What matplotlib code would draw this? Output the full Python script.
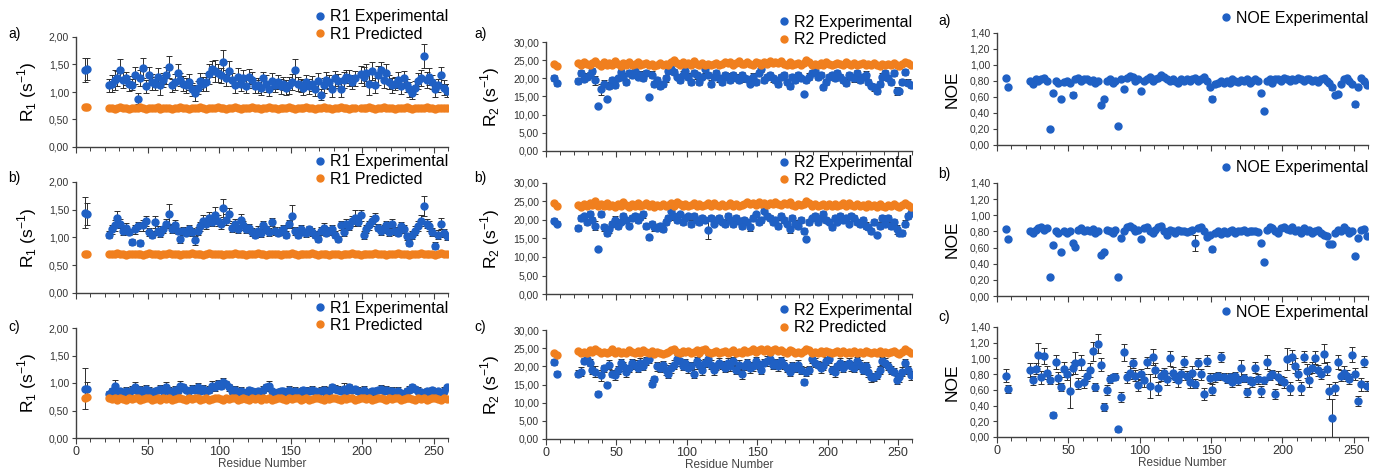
import matplotlib
matplotlib.use("Agg")
import matplotlib.pyplot as plt
from matplotlib.lines import Line2D
from matplotlib.ticker import MultipleLocator, FuncFormatter

nan = float("nan")

# residue numbers (categories on the x axis)
residues = [6, 8,
    23, 25, 27, 29, 31, 33, 35, 37, 39, 41,
    43, 45, 47, 49, 51, 53, 55, 57, 59, 61,
    63, 65, 67, 69, 71, 73, 75, 77, 79, 81,
    83, 85, 87, 89, 91, 93, 95, 97, 99, 101,
    103, 105, 107, 109, 111, 113, 115, 117, 119, 121,
    123, 125, 127, 129, 131, 133, 135, 137, 139, 141,
    143, 145, 147, 149, 151, 153, 155, 157, 159, 161,
    163, 165, 167, 169, 171, 173, 175, 177, 179, 181,
    183, 185, 187, 189, 191, 193, 195, 197, 199, 201,
    203, 205, 207, 209, 211, 213, 215, 217, 219, 221,
    223, 225, 227, 229, 231, 233, 235, 237, 239, 241,
    243, 245, 247, 249, 251, 253, 255, 257, 259]

# ---- R1 ----
r1_exp_a = [1.40, 1.42,
    1.12, 1.15, 1.22, 1.25, 1.40, 1.22, 1.25, 1.15, 1.13, 1.30,
    0.88, 1.25, 1.43, 1.10, 1.30, 1.18, 1.15, 1.28, 1.12, 1.22,
    1.30, 1.45, 1.12, 1.18, 1.35, 1.22, 1.15, 1.12, 1.18, 1.05,
    0.98, 1.08, 1.20, 1.15, 1.18, 1.32, 1.42, 1.38, 1.35, 1.30,
    1.55, 1.25, 1.38, 1.22, 1.12, 1.28, 1.15, 1.25, 1.10, 1.28,
    1.22, 1.10, 1.12, 1.08, 1.25, 1.15, 1.05, 1.20, 1.12, 1.18,
    1.10, 1.15, 1.08, 1.12, 1.18, 1.40, 1.15, 1.12, 1.08, 1.18,
    1.10, 1.15, 1.05, 1.20, 0.95, 1.12, 1.22, 1.18, 1.05, 1.25,
    1.20, 1.05, 1.22, 1.28, 1.25, 1.18, 1.25, nan, 1.32, 1.28,
    1.35, 1.15, 1.38, 1.12, 1.30, 1.40, 1.22, 1.35, 1.18, 1.12,
    1.15, 1.22, 1.10, 1.25, 1.12, 1.05, 0.98, 1.08, 1.20, 1.25,
    1.65, 1.22, 1.28, 1.18, 1.05, 1.12, 1.30, 1.08, 1.02]
r1_err_a = [0.22, 0.20,
    0.12, 0.15, 0.18, 0.14, 0.20, 0.15, 0.12, 0.14, 0.10, 0.16,
    0.10, 0.15, 0.18, 0.12, 0.16, 0.14, 0.12, 0.15, 0.18, 0.13,
    0.15, 0.20, 0.12, 0.14, 0.16, 0.12, 0.14, 0.13, 0.15, 0.12,
    0.14, 0.12, 0.15, 0.13, 0.16, 0.18, 0.15, 0.20, 0.16, 0.14,
    0.22, 0.15, 0.18, 0.12, 0.14, 0.16, 0.13, 0.15, 0.12, 0.14,
    0.15, 0.12, 0.13, 0.14, 0.12, 0.15, 0.13, 0.14, 0.12, 0.13,
    0.14, 0.12, 0.13, 0.15, 0.14, 0.20, 0.13, 0.12, 0.14, 0.12,
    0.13, 0.14, 0.12, 0.15, 0.10, 0.13, 0.14, 0.12, 0.15, 0.14,
    0.13, 0.15, 0.14, 0.12, 0.15, 0.13, 0.14, nan, 0.16, 0.18,
    0.15, 0.20, 0.16, 0.13, 0.18, 0.15, 0.14, 0.16, 0.13, 0.14,
    0.12, 0.15, 0.14, 0.13, 0.12, 0.14, 0.10, 0.12, 0.14, 0.15,
    0.22, 0.14, 0.15, 0.13, 0.14, 0.12, 0.16, 0.14, 0.12]
r1_pred_a = [0.72, 0.73,
    0.70, 0.71, 0.69, 0.70, 0.72, 0.70, 0.71, 0.69, 0.70, 0.71,
    0.70, 0.72, 0.70, 0.69, 0.71, 0.70, 0.70, 0.72, 0.69, 0.70,
    0.71, 0.70, 0.69, 0.71, 0.70, 0.72, 0.70, 0.71, 0.69, 0.70,
    0.71, 0.70, 0.72, 0.70, 0.69, 0.71, 0.70, 0.70, 0.72, 0.71,
    0.70, 0.69, 0.70, 0.71, 0.72, 0.70, 0.69, 0.70, 0.71, 0.70,
    0.72, 0.70, 0.71, 0.69, 0.70, 0.70, 0.72, 0.71, 0.70, 0.69,
    0.70, 0.71, 0.70, 0.72, 0.70, 0.69, 0.71, 0.70, 0.70, 0.72,
    0.71, 0.70, 0.69, 0.70, 0.71, 0.72, 0.70, 0.71, 0.69, 0.70,
    0.70, 0.72, 0.71, 0.70, 0.69, 0.70, 0.71, nan, 0.70, 0.71,
    0.70, 0.72, 0.70, 0.69, 0.71, 0.70, 0.72, 0.70, 0.71, 0.70,
    0.69, 0.70, 0.71, 0.70, 0.72, 0.70, 0.69, 0.71, 0.70, 0.71,
    0.70, 0.72, 0.70, 0.71, 0.69, 0.70, 0.71, 0.70, 0.71]

r1_exp_b = [1.45, 1.42,
    1.05, 1.15, 1.22, 1.35, 1.25, 1.12, 1.18, 1.10, 0.92, 1.15,
    1.20, 0.90, 1.22, 1.30, 1.10, 1.05, 1.28, 1.12, 1.08, 1.15,
    1.25, 1.43, 1.15, 1.22, 1.12, 0.98, 1.12, 1.08, 1.15, 1.10,
    0.95, 1.12, 1.20, 1.30, 1.25, 1.35, 1.28, 1.40, 1.30, 1.25,
    1.53, 1.32, 1.42, 1.18, 1.25, 1.15, 1.32, 1.22, 1.15, 1.18,
    1.10, 1.05, 1.12, 1.08, 1.22, 1.15, 1.10, 1.28, 1.12, 1.08,
    1.12, 1.15, 1.05, 1.25, 1.38, 1.12, 1.05, 1.15, 1.10, 1.08,
    1.15, 1.10, 1.05, 0.97, 1.12, 1.18, 1.08, 1.12, 1.15, 1.05,
    0.97, 1.22, 1.10, 1.25, 1.20, 1.30, 1.35, 1.28, 1.40, 1.05,
    1.15, 1.22, 1.30, 1.35, 1.18, 1.12, 1.15, 1.22, 1.10, 1.25,
    1.12, 1.08, 1.20, 1.15, 1.02, 0.90, 1.05, 1.12, 1.20, 1.30,
    1.57, 1.25, 1.20, 1.10, 0.85, 1.05, 1.25, 1.08, 1.02]
r1_err_b = [0.28, 0.20,
    0.06, 0.08, 0.10, 0.12, 0.08, 0.07, 0.09, 0.06, 0.05, 0.08,
    0.08, 0.05, 0.10, 0.09, 0.07, 0.06, 0.10, 0.08, 0.07, 0.06,
    0.08, 0.18, 0.07, 0.10, 0.06, 0.08, 0.07, 0.06, 0.08, 0.07,
    0.08, 0.07, 0.08, 0.10, 0.09, 0.11, 0.08, 0.15, 0.10, 0.09,
    0.16, 0.10, 0.12, 0.08, 0.09, 0.07, 0.10, 0.08, 0.07, 0.06,
    0.07, 0.06, 0.08, 0.07, 0.08, 0.06, 0.07, 0.08, 0.07, 0.06,
    0.07, 0.08, 0.06, 0.07, 0.20, 0.07, 0.06, 0.07, 0.06, 0.07,
    0.06, 0.07, 0.06, 0.05, 0.07, 0.08, 0.06, 0.07, 0.08, 0.06,
    0.05, 0.08, 0.07, 0.08, 0.07, 0.09, 0.15, 0.08, 0.10, 0.07,
    0.07, 0.08, 0.09, 0.10, 0.07, 0.08, 0.07, 0.08, 0.07, 0.08,
    0.07, 0.06, 0.08, 0.07, 0.06, 0.05, 0.07, 0.08, 0.09, 0.10,
    0.18, 0.08, 0.09, 0.07, 0.06, 0.08, 0.10, 0.07, 0.06]
r1_pred_b = [0.70, 0.70,
    0.71, 0.70, 0.70, 0.72, 0.71, 0.70, 0.69, 0.70, 0.71, 0.70,
    0.70, 0.71, 0.69, 0.70, 0.72, 0.70, 0.71, 0.70, 0.69, 0.70,
    0.71, 0.72, 0.70, 0.70, 0.71, 0.69, 0.70, 0.71, 0.70, 0.72,
    0.70, 0.71, 0.70, 0.69, 0.71, 0.72, 0.70, 0.71, 0.70, 0.70,
    0.69, 0.70, 0.71, 0.70, 0.72, 0.70, 0.71, 0.70, 0.69, 0.70,
    0.71, 0.70, 0.72, 0.70, 0.71, 0.69, 0.70, 0.70, 0.71, 0.70,
    0.69, 0.70, 0.71, 0.70, 0.72, 0.70, 0.69, 0.70, 0.71, 0.70,
    0.70, 0.72, 0.70, 0.69, 0.70, 0.71, 0.70, 0.69, 0.70, 0.71,
    0.70, 0.69, 0.71, 0.70, 0.70, 0.72, 0.71, 0.70, 0.69, 0.70,
    0.71, 0.70, 0.70, 0.72, 0.70, 0.71, 0.70, 0.69, 0.70, 0.71,
    0.70, 0.72, 0.70, 0.71, 0.70, 0.69, 0.70, 0.71, 0.70, 0.72,
    0.71, 0.70, 0.70, 0.71, 0.69, 0.70, 0.72, 0.71, 0.70]

r1_exp_c = [0.90, 0.90,
    0.80, 0.85, 0.95, 0.82, 0.85, 0.80, 0.86, 0.82, 0.88, 0.92,
    0.85, 0.88, 0.82, 0.90, 0.86, 0.82, 0.85, 0.88, 0.90, 0.85,
    0.92, 0.86, 0.82, 0.88, 0.85, 0.95, 0.92, 0.88, 0.85, 0.90,
    0.88, 0.92, 0.85, 0.90, 0.86, 0.88, 0.95, 0.92, 0.98, 0.95,
    1.02, 0.98, 0.92, 0.85, 0.88, 0.82, 0.86, 0.84, 0.82, 0.88,
    0.85, 0.82, 0.86, 0.84, 0.88, 0.92, 0.95, 0.85, 0.82, 0.84,
    0.86, 0.85, 0.82, 0.88, 0.84, 0.86, 0.82, 0.85, 0.88, 0.86,
    0.85, 0.88, 0.86, 0.84, 0.86, 0.88, 0.82, 0.86, 0.92, 0.90,
    0.88, 0.86, 0.90, 0.85, 0.92, 0.88, 0.90, 0.86, 0.82, 0.88,
    0.84, 0.82, 0.86, 0.85, 0.88, 0.90, 0.86, 0.88, 0.85, 0.86,
    0.84, 0.86, 0.82, 0.80, 0.85, 0.88, 0.92, 0.90, 0.86, 0.84,
    0.82, 0.86, 0.84, 0.88, 0.82, 0.85, 0.80, 0.86, 0.92]
r1_err_c = [0.38, 0.12,
    0.05, 0.06, 0.10, 0.05, 0.06, 0.05, 0.06, 0.05, 0.07, 0.10,
    0.05, 0.06, 0.05, 0.07, 0.06, 0.05, 0.06, 0.05, 0.07, 0.06,
    0.10, 0.06, 0.05, 0.07, 0.06, 0.08, 0.06, 0.05, 0.06, 0.07,
    0.06, 0.08, 0.05, 0.06, 0.05, 0.07, 0.08, 0.06, 0.07, 0.06,
    0.08, 0.06, 0.07, 0.05, 0.06, 0.05, 0.06, 0.05, 0.06, 0.05,
    0.06, 0.05, 0.05, 0.06, 0.06, 0.07, 0.08, 0.05, 0.06, 0.05,
    0.05, 0.06, 0.05, 0.06, 0.05, 0.06, 0.05, 0.06, 0.05, 0.06,
    0.05, 0.06, 0.05, 0.05, 0.06, 0.07, 0.05, 0.06, 0.07, 0.06,
    0.06, 0.05, 0.10, 0.06, 0.07, 0.06, 0.05, 0.06, 0.05, 0.06,
    0.05, 0.06, 0.05, 0.06, 0.05, 0.06, 0.05, 0.06, 0.05, 0.06,
    0.05, 0.06, 0.05, 0.05, 0.06, 0.07, 0.06, 0.05, 0.06, 0.05,
    0.06, 0.05, 0.06, 0.05, 0.06, 0.05, 0.05, 0.06, 0.05]
r1_pred_c = [0.72, 0.75,
    0.72, 0.71, 0.73, 0.70, 0.72, 0.71, 0.70, 0.72, 0.71, 0.73,
    0.72, 0.70, 0.71, 0.73, 0.72, 0.70, 0.71, 0.72, 0.70, 0.73,
    0.71, 0.72, 0.70, 0.71, 0.73, 0.72, 0.71, 0.70, 0.72, 0.71,
    0.73, 0.72, 0.70, 0.71, 0.72, 0.70, 0.71, 0.73, 0.72, 0.71,
    0.70, 0.72, 0.71, 0.73, 0.72, 0.70, 0.71, 0.72, 0.71, 0.70,
    0.72, 0.71, 0.73, 0.70, 0.72, 0.71, 0.72, 0.70, 0.71, 0.73,
    0.72, 0.71, 0.70, 0.72, 0.71, 0.73, 0.72, 0.70, 0.71, 0.72,
    0.70, 0.71, 0.73, 0.72, 0.71, 0.70, 0.72, 0.71, 0.73, 0.72,
    0.71, 0.70, 0.72, 0.71, 0.73, 0.72, 0.70, 0.71, 0.72, 0.73,
    0.71, 0.72, 0.70, 0.71, 0.73, 0.72, 0.71, 0.70, 0.72, 0.71,
    0.73, 0.72, 0.70, 0.71, 0.72, 0.73, 0.71, 0.70, 0.72, 0.71,
    0.72, 0.70, 0.71, 0.73, 0.72, 0.71, 0.70, 0.72, 0.71]

# ---- R2 ----
r2_exp_a = [20.2, 18.6,
    19.2, 21.5, 19.8, 20.5, 21.0, 22.0, 19.5, 12.3, 17.0, 18.5,
    14.3, 18.0, 19.5, 18.2, 20.0, 21.8, 20.5, 19.0, 21.5, 20.8,
    22.0, 20.5, 21.0, 20.0, 21.5, 14.8, 21.0, 18.5, 19.5, 17.8,
    18.5, 20.0, 22.0, 22.5, 21.8, 20.5, 19.5, 21.0, 22.0, 20.5,
    19.0, 21.5, 20.8, 19.0, 20.5, 22.5, 21.0, 18.5, 20.5, 21.5,
    20.0, 19.0, 21.0, 20.5, 19.5, 21.0, 20.2, 19.5, 21.0, 20.0,
    19.8, 18.5, 20.5, 19.0, 21.5, 22.5, 19.5, 20.5, 21.0, 20.0,
    19.5, 18.5, 20.5, 21.0, 19.0, 18.0, 20.5, 19.5, 21.0, 20.0,
    15.7, 19.5, 20.5, 21.5, 22.0, 20.5, 21.0, 17.5, 19.0, 20.5,
    21.0, 20.0, 21.5, 20.5, 19.5, 18.8, 21.0, 20.5, 20.0, 21.5,
    19.5, 20.5, 21.0, 19.0, 18.0, 17.5, 16.5, 18.5, 20.5, 21.5,
    20.0, 19.0, 21.5, 16.5, 16.5, 19.0, 21.8, 18.8, 18.2]
r2_err_a = [0.8, 0.6,
    0.8, 0.9, 0.7, 1.0, 0.8, 0.9, 1.2, 0.5, 1.5, 1.0,
    0.6, 1.0, 0.8, 0.9, 0.7, 0.8, 0.9, 0.7, 0.8, 0.6,
    0.7, 0.8, 0.9, 0.7, 0.8, 0.5, 0.9, 0.8, 1.0, 0.7,
    0.8, 0.9, 0.7, 0.8, 0.9, 0.7, 0.8, 1.0, 0.8, 0.9,
    0.8, 0.7, 0.9, 0.8, 0.7, 0.9, 0.8, 1.0, 0.7, 0.8,
    0.9, 0.7, 0.8, 0.9, 0.7, 0.8, 0.9, 0.8, 0.7, 0.9,
    0.8, 0.7, 0.9, 0.8, 0.7, 0.8, 0.9, 0.7, 0.8, 0.9,
    0.8, 0.9, 0.7, 0.8, 0.9, 0.8, 0.7, 0.9, 0.8, 0.7,
    0.5, 0.8, 0.9, 0.7, 0.8, 0.9, 0.7, 0.8, 0.9, 0.8,
    0.7, 0.8, 0.9, 0.8, 0.7, 0.9, 0.8, 0.7, 0.9, 0.8,
    0.8, 0.7, 0.9, 0.8, 0.7, 0.9, 0.8, 0.8, 0.9, 0.7,
    0.8, 0.9, 0.8, 1.2, 0.7, 0.8, 0.9, 1.0, 0.8]
r2_pred_a = [24.0, 23.3,
    24.2, 23.8, 24.5, 24.0, 23.6, 24.3, 24.8, 24.0, 23.5, 24.5,
    23.8, 24.2, 23.6, 24.8, 24.0, 23.5, 24.2, 23.8, 24.5, 23.6,
    24.0, 24.4, 23.7, 23.9, 24.3, 23.6, 24.0, 23.5, 23.8, 24.1,
    23.6, 24.0, 23.8, 24.6, 25.0, 24.2, 23.8, 24.5, 23.9, 24.3,
    23.6, 24.8, 24.0, 23.7, 24.3, 23.8, 24.0, 23.6, 23.9, 24.2,
    23.7, 24.0, 24.5, 24.2, 24.6, 23.8, 24.3, 24.8, 24.0, 23.9,
    24.5, 24.0, 23.8, 24.6, 24.2, 23.7, 24.4, 24.0, 24.8, 24.3,
    24.6, 24.2, 24.8, 24.0, 23.8, 24.5, 23.6, 24.0, 24.3, 23.8,
    24.1, 25.0, 24.4, 23.7, 24.0, 23.6, 24.2, 23.8, 24.4, 24.0,
    23.6, 23.9, 24.3, 24.0, 23.7, 24.6, 24.0, 23.8, 24.2, 23.6,
    23.9, 24.3, 23.7, 24.0, 23.6, 24.1, 23.8, 23.5, 24.0, 23.7,
    23.9, 23.6, 24.2, 23.8, 23.5, 23.9, 24.6, 24.2, 23.7]

r2_exp_b = [19.8, 19.0,
    17.8, 20.5, 21.0, 19.5, 21.5, 20.0, 18.5, 12.2, 21.5, 18.0,
    16.5, 17.5, 19.0, 20.0, 18.5, 19.5, 21.0, 20.0, 18.5, 20.5,
    21.0, 20.0, 20.8, 21.5, 18.5, 15.3, 19.0, 18.0, 17.8, 18.5,
    17.5, 19.5, 20.5, 22.5, 21.0, 20.0, 21.5, 19.5, 20.5, 21.0,
    19.0, 21.0, 20.0, 19.5, 20.5, 20.0, 17.3, 20.5, 19.0, 20.0,
    20.5, 19.5, 19.0, 21.0, 20.0, 19.0, 20.5, 19.8, 18.5, 20.0,
    19.5, 18.0, 20.5, 21.5, 19.5, 20.0, 22.5, 21.0, 20.5, 19.5,
    20.0, 18.5, 21.0, 20.0, 19.0, 17.5, 20.5, 19.0, 18.5, 20.0,
    17.0, 14.8, 19.5, 20.5, 21.0, 19.5, 20.5, 21.5, 20.0, 19.5,
    18.0, 20.5, 19.5, 21.0, 20.0, 20.5, 19.0, 21.0, 20.5, 19.5,
    19.0, 20.0, 18.5, 18.0, 17.0, 19.5, 16.0, 18.5, 20.5, 19.0,
    20.5, 18.5, 19.5, 17.5, 16.5, 16.5, 19.0, 21.0, 22.0]
r2_err_b = [0.7, 0.6,
    0.9, 0.8, 0.7, 0.9, 0.8, 0.7, 1.2, 0.5, 0.8, 1.0,
    0.7, 0.9, 0.8, 1.0, 0.8, 0.7, 0.9, 0.8, 0.7, 0.8,
    0.9, 0.8, 0.7, 0.9, 0.8, 0.6, 0.8, 1.0, 0.9, 0.8,
    0.7, 0.9, 0.8, 0.7, 0.9, 0.8, 0.7, 0.9, 0.8, 0.7,
    0.9, 0.8, 0.7, 0.8, 0.9, 0.8, 2.5, 0.8, 0.7, 0.9,
    0.8, 0.7, 0.9, 0.8, 0.7, 0.8, 0.9, 0.8, 1.0, 0.8,
    0.7, 0.9, 0.8, 0.7, 0.8, 0.9, 0.7, 0.8, 0.9, 0.8,
    0.7, 0.8, 0.9, 0.8, 0.7, 1.0, 0.8, 0.9, 0.8, 0.7,
    0.9, 0.6, 0.8, 0.7, 0.9, 0.8, 0.7, 0.9, 0.8, 0.7,
    0.8, 0.9, 0.7, 0.8, 0.9, 0.8, 0.7, 0.8, 0.9, 0.8,
    0.8, 0.7, 0.9, 0.8, 0.9, 0.8, 0.6, 0.9, 0.8, 0.7,
    0.8, 0.9, 0.8, 1.2, 0.7, 0.8, 0.9, 0.8, 0.7]
r2_pred_b = [24.5, 23.8,
    24.0, 23.6, 24.2, 23.8, 24.5, 24.0, 25.0, 23.7, 24.3, 23.9,
    24.6, 23.8, 24.0, 23.5, 24.2, 23.9, 24.8, 24.0, 23.6, 24.3,
    23.8, 24.5, 23.7, 24.0, 24.6, 23.8, 24.2, 23.6, 24.0, 23.8,
    24.3, 23.7, 24.0, 24.5, 23.8, 24.8, 24.2, 23.9, 24.4, 23.7,
    24.0, 24.6, 23.8, 24.2, 23.7, 24.0, 24.5, 23.8, 24.6, 24.0,
    23.8, 24.3, 23.9, 24.0, 24.5, 23.8, 24.2, 23.7, 24.0, 24.4,
    24.8, 24.2, 24.6, 24.0, 24.8, 24.3, 24.6, 24.0, 24.5, 24.2,
    24.8, 24.3, 24.0, 24.6, 24.2, 24.8, 24.0, 23.8, 24.4, 24.0,
    24.2, 25.0, 24.5, 23.8, 24.2, 23.7, 24.0, 24.4, 23.8, 24.2,
    23.9, 24.3, 23.7, 24.0, 24.5, 23.8, 24.6, 24.0, 23.7, 24.2,
    23.8, 24.0, 23.6, 24.3, 23.8, 24.0, 23.6, 24.2, 23.8, 23.6,
    24.0, 23.7, 24.2, 23.8, 23.6, 24.0, 24.6, 24.0, 23.6]

r2_exp_c = [21.2, 18.0,
    18.0, 18.5, 21.5, 22.0, 21.0, 19.0, 18.5, 12.5, 17.5, 19.5,
    15.0, 20.5, 18.0, 17.5, 19.0, 21.0, 20.0, 18.5, 19.5, 21.0,
    20.5, 19.5, 21.0, 20.0, 21.5, 22.0, 15.2, 16.5, 20.0, 19.5,
    20.5, 19.0, 18.0, 19.5, 20.5, 22.0, 21.5, 20.0, 21.0, 19.5,
    20.0, 18.0, 21.5, 20.5, 19.0, 21.0, 22.0, 20.5, 19.0, 20.0,
    21.0, 20.5, 19.5, 21.0, 20.0, 21.5, 19.0, 20.5, 17.8, 20.0,
    21.0, 19.5, 20.0, 21.5, 20.5, 19.0, 21.0, 21.5, 22.0, 20.5,
    21.0, 20.0, 21.5, 20.5, 19.5, 18.5, 20.0, 19.5, 20.5, 19.0,
    15.7, 18.5, 19.0, 22.0, 21.0, 20.5, 19.5, 20.0, 21.5, 22.0,
    19.0, 18.5, 20.0, 21.0, 19.5, 20.5, 21.0, 20.0, 19.5, 21.5,
    20.5, 19.0, 20.0, 18.5, 17.0, 17.0, 17.5, 19.0, 21.5, 21.0,
    20.0, 19.0, 18.5, 16.2, 17.0, 18.5, 21.0, 19.0, 17.5]
r2_err_c = [0.8, 0.6,
    1.0, 1.2, 0.9, 1.1, 1.0, 1.2, 1.5, 0.8, 1.4, 1.0,
    0.8, 1.2, 1.0, 1.3, 1.1, 1.0, 1.2, 1.4, 1.0, 1.1,
    1.2, 1.0, 1.3, 1.1, 1.0, 1.2, 1.0, 0.9, 1.2, 1.1,
    1.0, 1.3, 1.1, 1.4, 1.2, 1.0, 1.3, 1.1, 1.0, 1.2,
    1.1, 1.3, 1.0, 1.2, 1.4, 1.1, 1.0, 1.2, 1.3, 1.0,
    1.2, 1.1, 1.0, 1.3, 1.2, 1.0, 1.1, 1.3, 1.2, 1.0,
    1.1, 1.3, 1.2, 1.0, 1.1, 1.2, 1.0, 1.3, 1.1, 1.2,
    1.0, 1.2, 1.1, 1.3, 1.0, 1.2, 1.1, 1.0, 1.2, 1.1,
    0.8, 1.2, 1.0, 1.1, 1.3, 1.0, 1.2, 1.1, 1.0, 1.2,
    1.1, 1.3, 1.0, 1.2, 1.1, 1.0, 1.3, 1.2, 1.0, 1.1,
    1.2, 1.0, 1.1, 1.3, 1.2, 1.0, 1.1, 1.2, 1.0, 1.3,
    1.1, 1.2, 1.0, 1.1, 1.3, 1.2, 1.0, 1.1, 1.2]
r2_pred_c = [23.6, 23.2,
    24.2, 23.8, 24.0, 23.6, 24.4, 23.9, 24.8, 24.2, 23.7, 24.0,
    23.6, 24.0, 24.8, 23.8, 24.2, 23.6, 24.0, 23.7, 24.5, 24.0,
    23.8, 24.3, 23.7, 24.6, 24.0, 23.8, 24.2, 23.5, 23.9, 23.6,
    23.4, 23.8, 24.0, 24.5, 24.8, 24.0, 23.7, 24.2, 23.9, 24.3,
    23.6, 24.0, 24.4, 23.8, 24.6, 24.9, 24.0, 23.6, 23.9, 24.1,
    23.7, 24.0, 24.3, 23.8, 24.0, 24.5, 23.7, 24.0, 23.8, 24.4,
    23.9, 24.2, 24.9, 24.0, 24.6, 24.8, 24.3, 24.7, 24.0, 24.5,
    24.8, 24.2, 24.4, 24.0, 23.8, 24.6, 24.2, 23.7, 24.0, 23.8,
    24.2, 24.8, 24.4, 23.7, 24.0, 23.6, 24.1, 23.8, 24.2, 23.9,
    23.6, 24.0, 24.3, 23.8, 24.1, 23.7, 24.0, 23.6, 24.3, 23.8,
    24.0, 23.7, 24.2, 23.9, 23.6, 24.0, 23.8, 24.3, 23.7, 24.0,
    23.6, 23.9, 24.2, 23.8, 23.5, 24.0, 24.8, 24.2, 23.6]

# ---- NOE ----
noe_a = [0.84, 0.72,
    0.80, 0.76, 0.82, 0.80, 0.83, 0.84, 0.80, 0.20, 0.65, 0.80,
    0.78, 0.57, 0.79, 0.80, 0.78, 0.63, 0.82, 0.84, 0.80, 0.83,
    0.82, 0.80, 0.81, 0.78, 0.80, 0.50, 0.57, 0.80, 0.82, 0.78,
    0.80, 0.24, 0.82, 0.70, 0.84, 0.86, 0.85, 0.80, 0.82, 0.68,
    0.80, 0.83, 0.85, 0.80, 0.82, 0.84, 0.88, 0.85, 0.82, 0.80,
    0.82, 0.80, 0.78, 0.82, 0.80, 0.83, 0.80, 0.82, 0.84, 0.80,
    0.82, 0.85, 0.80, 0.72, 0.58, 0.76, 0.78, 0.80, 0.77, 0.80,
    0.78, 0.82, 0.80, 0.79, 0.81, 0.80, 0.82, 0.78, 0.80, 0.82,
    0.80, 0.65, 0.42, 0.80, 0.82, 0.78, 0.83, 0.82, 0.80, 0.84,
    0.82, 0.80, 0.83, 0.81, 0.84, 0.82, 0.80, 0.82, 0.83, 0.80,
    0.81, 0.79, 0.82, 0.84, 0.80, 0.78, 0.72, 0.62, 0.64, 0.76,
    0.82, 0.84, 0.80, 0.76, 0.51, 0.72, 0.84, 0.80, 0.75]
noe_err_a = [0.02, 0.02,
    0.02, 0.01, 0.02, 0.02, 0.01, 0.02, 0.02, 0.02, 0.03, 0.02,
    0.02, 0.02, 0.01, 0.02, 0.02, 0.03, 0.02, 0.01, 0.02, 0.02,
    0.02, 0.01, 0.02, 0.02, 0.02, 0.03, 0.02, 0.02, 0.01, 0.02,
    0.02, 0.02, 0.02, 0.03, 0.02, 0.01, 0.02, 0.02, 0.02, 0.02,
    0.02, 0.01, 0.02, 0.02, 0.02, 0.01, 0.02, 0.02, 0.02, 0.01,
    0.02, 0.02, 0.01, 0.02, 0.02, 0.02, 0.01, 0.02, 0.02, 0.02,
    0.02, 0.01, 0.02, 0.02, 0.03, 0.02, 0.02, 0.01, 0.02, 0.02,
    0.02, 0.02, 0.01, 0.02, 0.02, 0.02, 0.01, 0.02, 0.02, 0.02,
    0.02, 0.03, 0.02, 0.02, 0.01, 0.02, 0.02, 0.02, 0.01, 0.02,
    0.02, 0.02, 0.01, 0.02, 0.02, 0.02, 0.02, 0.01, 0.02, 0.02,
    0.02, 0.01, 0.02, 0.02, 0.02, 0.02, 0.03, 0.02, 0.02, 0.02,
    0.02, 0.02, 0.01, 0.02, 0.03, 0.02, 0.02, 0.02, 0.02]

noe_b = [0.83, 0.71,
    0.80, 0.78, 0.82, 0.84, 0.85, 0.82, 0.84, 0.23, 0.63, 0.80,
    0.78, 0.54, 0.80, 0.78, 0.80, 0.66, 0.61, 0.82, 0.84, 0.80,
    0.82, 0.80, 0.83, 0.78, 0.80, 0.51, 0.55, 0.82, 0.80, 0.78,
    0.82, 0.23, 0.72, 0.80, 0.85, 0.87, 0.84, 0.80, 0.82, 0.70,
    0.84, 0.86, 0.80, 0.78, 0.82, 0.85, 0.87, 0.80, 0.75, 0.82,
    0.80, 0.78, 0.82, 0.80, 0.81, 0.79, 0.80, 0.82, 0.66, 0.84,
    0.85, 0.80, 0.73, 0.76, 0.58, 0.78, 0.80, 0.77, 0.80, 0.78,
    0.80, 0.82, 0.78, 0.81, 0.80, 0.82, 0.79, 0.80, 0.81, 0.80,
    0.79, 0.66, 0.42, 0.82, 0.86, 0.84, 0.80, 0.78, 0.84, 0.86,
    0.83, 0.82, 0.85, 0.80, 0.82, 0.78, 0.84, 0.80, 0.82, 0.78,
    0.80, 0.82, 0.78, 0.76, 0.74, 0.64, 0.64, 0.78, 0.82, 0.80,
    0.86, 0.82, 0.78, 0.80, 0.49, 0.72, 0.82, 0.83, 0.74]
noe_err_b = [0.02, 0.02,
    0.01, 0.02, 0.02, 0.02, 0.01, 0.02, 0.02, 0.02, 0.02, 0.02,
    0.02, 0.02, 0.02, 0.01, 0.02, 0.02, 0.02, 0.02, 0.01, 0.02,
    0.02, 0.02, 0.01, 0.02, 0.02, 0.02, 0.02, 0.02, 0.02, 0.01,
    0.02, 0.02, 0.02, 0.02, 0.01, 0.02, 0.02, 0.02, 0.02, 0.02,
    0.02, 0.01, 0.02, 0.02, 0.02, 0.02, 0.01, 0.02, 0.02, 0.02,
    0.02, 0.02, 0.01, 0.02, 0.02, 0.02, 0.02, 0.02, 0.10, 0.02,
    0.02, 0.02, 0.02, 0.01, 0.03, 0.02, 0.02, 0.02, 0.01, 0.02,
    0.02, 0.02, 0.01, 0.02, 0.02, 0.02, 0.02, 0.01, 0.02, 0.02,
    0.02, 0.02, 0.02, 0.02, 0.01, 0.02, 0.02, 0.02, 0.02, 0.01,
    0.02, 0.02, 0.02, 0.01, 0.02, 0.02, 0.02, 0.02, 0.01, 0.02,
    0.02, 0.02, 0.01, 0.02, 0.02, 0.02, 0.02, 0.02, 0.01, 0.02,
    0.02, 0.02, 0.02, 0.01, 0.02, 0.02, 0.02, 0.02, 0.02]

noe_c = [0.78, 0.61,
    0.85, 0.72, 0.87, 1.05, 0.76, 1.03, 0.82, 0.73, 0.28, 0.96,
    0.75, 0.64, 0.86, 0.80, 0.58, 0.88, 0.94, 0.68, 0.95, 0.70,
    0.78, 0.85, 1.09, 0.64, 1.19, 0.92, 0.38, 0.60, 0.74, 0.76,
    0.77, 0.10, 0.51, 1.08, 0.76, 0.82, 0.94, 0.78, 0.66, 0.80,
    0.72, 0.95, 0.65, 1.02, 0.85, 0.62, 0.78, 0.82, 0.74, 1.00,
    0.82, 0.76, 0.72, 0.80, 0.96, 0.78, 0.70, 0.82, 0.68, 0.94,
    0.80, 0.55, 0.97, 0.75, 0.60, 0.76, 0.78, 1.02, 0.77, 0.74,
    0.76, 0.70, 0.78, 0.72, 0.88, 0.75, 0.57, 0.72, 0.70, 0.88,
    0.74, 0.58, 0.72, 0.96, 0.78, 0.80, 0.55, 0.76, 0.72, 0.70,
    0.99, 0.62, 1.02, 0.91, 0.80, 0.62, 1.02, 0.84, 0.72, 0.88,
    1.01, 0.85, 0.80, 1.06, 0.87, 0.58, 0.24, 0.62, 0.96, 0.78,
    0.82, 0.78, 0.74, 1.05, 0.80, 0.46, 0.67, 0.96, 0.65]
noe_err_c = [0.08, 0.05,
    0.09, 0.06, 0.07, 0.15, 0.08, 0.10, 0.08, 0.06, 0.04, 0.09,
    0.08, 0.05, 0.09, 0.07, 0.21, 0.08, 0.14, 0.07, 0.10, 0.08,
    0.07, 0.09, 0.12, 0.05, 0.12, 0.08, 0.05, 0.06, 0.05, 0.04,
    0.04, 0.03, 0.06, 0.11, 0.07, 0.08, 0.06, 0.07, 0.08, 0.07,
    0.08, 0.07, 0.15, 0.10, 0.09, 0.08, 0.07, 0.06, 0.08, 0.10,
    0.07, 0.06, 0.08, 0.07, 0.07, 0.06, 0.07, 0.08, 0.06, 0.07,
    0.07, 0.08, 0.07, 0.06, 0.07, 0.06, 0.05, 0.06, 0.05, 0.05,
    0.05, 0.06, 0.05, 0.06, 0.10, 0.05, 0.06, 0.05, 0.06, 0.07,
    0.06, 0.07, 0.05, 0.09, 0.06, 0.05, 0.06, 0.08, 0.06, 0.07,
    0.14, 0.08, 0.09, 0.10, 0.07, 0.08, 0.07, 0.09, 0.08, 0.07,
    0.08, 0.07, 0.06, 0.12, 0.08, 0.09, 0.24, 0.08, 0.09, 0.07,
    0.08, 0.07, 0.06, 0.09, 0.08, 0.06, 0.08, 0.07, 0.06]

for _name, _arr in list(globals().items()):
    if _name.startswith(("r1_", "r2_", "noe_")) and len(_arr) != len(residues):
        raise ValueError(f"{_name}: {len(_arr)} != {len(residues)}")

BLUE = "#1f60c4"
ORANGE = "#f07f1e"
ERR = "#2e2e2e"
AXIS = "#404040"

plt.rcParams["font.family"] = ["Liberation Sans", "DejaVu Sans"]

W, H = 1374, 471
fig = plt.figure(figsize=(W / 100, H / 100), dpi=100)


def px_axes(left, top, right, bottom):
    return fig.add_axes([left / W, 1 - bottom / H, (right - left) / W, (bottom - top) / H])


comma = FuncFormatter(lambda v, _: f"{v:.2f}".replace(".", ","))


def style(ax, ymax, ystep, bottom_row):
    ax.set_xlim(0, 260)
    ax.set_ylim(0, ymax)
    ax.yaxis.set_major_locator(MultipleLocator(ystep))
    ax.yaxis.set_major_formatter(comma)
    ax.xaxis.set_major_locator(MultipleLocator(50))
    ax.xaxis.set_minor_locator(MultipleLocator(10))
    for s in ("top", "right"):
        ax.spines[s].set_visible(False)
    for s in ("left", "bottom"):
        ax.spines[s].set_color(AXIS)
        ax.spines[s].set_linewidth(1.0)
    ax.tick_params(axis="y", direction="out", length=3, width=0.8, color=AXIS,
                   labelsize=7.5, labelcolor="#333333", pad=2)
    ax.tick_params(axis="x", which="major", direction="out", length=4, width=0.8, color=AXIS,
                   labelsize=9, labelcolor="#333333", pad=2)
    ax.tick_params(axis="x", which="minor", direction="out", length=3, width=0.7, color=AXIS)
    if bottom_row:
        ax.set_xlabel("Residue Number", fontsize=8.5, color="#444444", labelpad=0)
    else:
        ax.tick_params(axis="x", labelbottom=False)


def marker_handle(color):
    return Line2D([], [], marker="o", linestyle="", color=color, markersize=5)


def rate_panel(ax, exp, err, pred, name):
    ax.errorbar(residues, exp, yerr=err, fmt="o", ms=5, color=BLUE, mec=BLUE,
                ecolor=ERR, elinewidth=0.7, capsize=2, capthick=0.7, zorder=2)
    ax.plot(residues, pred, "o", ms=5, color=ORANGE, zorder=3)
    ax.legend([marker_handle(BLUE), marker_handle(ORANGE)],
              [f"{name} Experimental", f"{name} Predicted"],
              loc="upper right", bbox_to_anchor=(1.0, 1.25), frameon=False,
              borderaxespad=0, borderpad=0, handletextpad=0.1, handlelength=1.0,
              labelspacing=0.15, fontsize=11.5)


def noe_panel(ax, vals, err):
    ax.errorbar(residues, vals, yerr=err, fmt="o", ms=5, color=BLUE, mec=BLUE,
                ecolor=ERR, elinewidth=0.7, capsize=2, capthick=0.7, zorder=2)
    ax.legend([marker_handle(BLUE)], ["NOE Experimental"],
              loc="upper right", bbox_to_anchor=(1.0, 1.2), frameon=False,
              borderaxespad=0, borderpad=0, handletextpad=0.1, handlelength=1.0,
              fontsize=11.5)


rows = ["a)", "b)", "c)"]
r1_sets = [(r1_exp_a, r1_err_a, r1_pred_a), (r1_exp_b, r1_err_b, r1_pred_b),
           (r1_exp_c, r1_err_c, r1_pred_c)]
r2_sets = [(r2_exp_a, r2_err_a, r2_pred_a), (r2_exp_b, r2_err_b, r2_pred_b),
           (r2_exp_c, r2_err_c, r2_pred_c)]
noe_sets = [(noe_a, noe_err_a), (noe_b, noe_err_b), (noe_c, noe_err_c)]

left_rows = [(37, 147), (182, 293), (328, 438)]
mid_rows = [(42, 151), (183, 294), (330, 439)]
right_rows = [(33, 145), (183, 296), (327, 437)]
left_lab_y = [34, 178, 327]
mid_lab_y = [34, 178, 327]
right_lab_y = [21, 174, 317]

for i in range(3):
    last = i == 2
    # R1 column
    ax = px_axes(76, left_rows[i][0], 448, left_rows[i][1])
    rate_panel(ax, *r1_sets[i], "R1")
    style(ax, 2.0, 0.5, last)
    ax.set_ylabel(r"R$_\mathregular{1}$ (s$^\mathregular{-1}$)", fontsize=12.5)
    ax.yaxis.set_label_coords(-37 / 372, 0.5)
    fig.text(8 / W, 1 - left_lab_y[i] / H, rows[i], fontsize=10, va="center", ha="left")

    # R2 column
    ax = px_axes(546, mid_rows[i][0], 912, mid_rows[i][1])
    rate_panel(ax, *r2_sets[i], "R2")
    style(ax, 30, 5, last)
    ax.set_ylabel(r"R$_\mathregular{2}$ (s$^\mathregular{-1}$)", fontsize=12.5)
    ax.yaxis.set_label_coords(-44 / 366, 0.5)
    fig.text(474 / W, 1 - mid_lab_y[i] / H, rows[i], fontsize=10, va="center", ha="left")

    # NOE column
    ax = px_axes(997, right_rows[i][0], 1368, right_rows[i][1])
    noe_panel(ax, *noe_sets[i])
    style(ax, 1.4, 0.2, last)
    ax.set_ylabel("NOE", fontsize=12.5)
    ax.yaxis.set_label_coords(-37 / 371, 0.5)
    fig.text(938 / W, 1 - right_lab_y[i] / H, rows[i], fontsize=10, va="center", ha="left")

fig.savefig("out.png", dpi=100)
